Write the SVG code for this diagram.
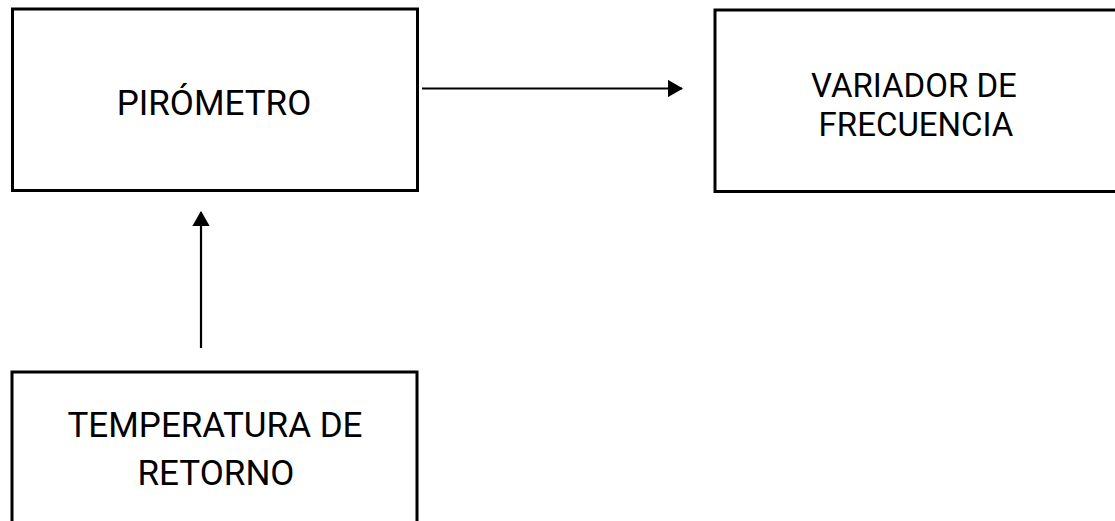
<svg xmlns="http://www.w3.org/2000/svg" width="1115" height="521" viewBox="0 0 1115 521">
<style>
.box{fill:#fff;stroke:#000;stroke-width:3}
.lbl{font-family:Roboto,"Liberation Sans",sans-serif;font-size:35px;fill:#000;text-anchor:middle}
.lbl2{font-size:33px}
.conn{stroke:#000;stroke-width:2.2;fill:none}
</style>
<defs>
<marker id="ah" markerWidth="7" markerHeight="8" refX="6.5" refY="4" orient="auto" markerUnits="strokeWidth">
<path d="M0,0 L7,4 L0,8 Z" fill="#000"/>
</marker>
</defs>
<rect width="1115" height="521" fill="#fff"/>
<g id="pirometro">
<rect class="box" x="12.5" y="9" width="405" height="181.5"/>
<text class="lbl" x="214" y="115">PIRÓMETRO</text>
</g>
<g id="variador">
<rect class="box" x="715" y="10" width="410" height="181.5"/>
<text class="lbl lbl2" x="914" y="97">VARIADOR DE</text>
<text class="lbl lbl2" x="916" y="136">FRECUENCIA</text>
</g>
<g id="temperatura">
<rect class="box" x="12" y="372" width="405" height="160"/>
<text class="lbl" x="215" y="437">TEMPERATURA DE</text>
<text class="lbl" x="216" y="485">RETORNO</text>
</g>
<g id="connectors">
<line class="conn" x1="422" y1="88.5" x2="682" y2="88.5" marker-end="url(#ah)"/>
<line class="conn" x1="201" y1="348" x2="201" y2="212" marker-end="url(#ah)"/>
</g>
</svg>
